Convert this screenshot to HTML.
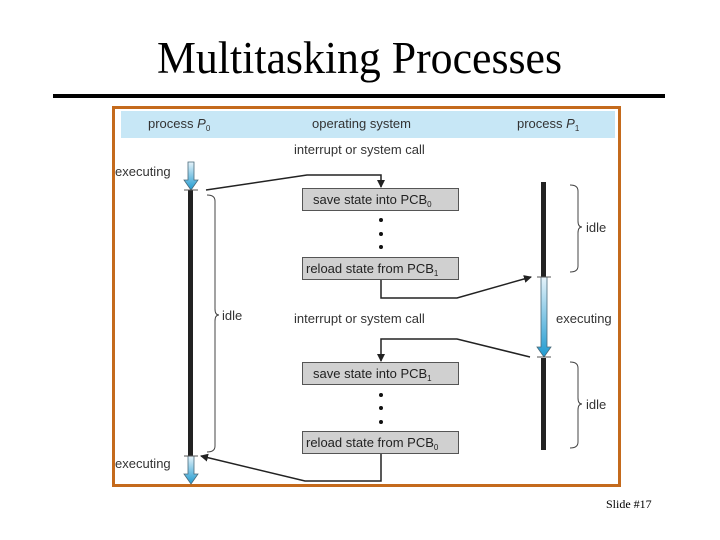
<!DOCTYPE html>
<html><head><style>body{margin:0;background:#fff}svg{display:block}</style></head>
<body>
<svg width="720" height="540" viewBox="0 0 720 540" xmlns="http://www.w3.org/2000/svg" font-family="Liberation Sans, sans-serif">
<defs>
<linearGradient id="g" x1="0" y1="0" x2="0" y2="1"><stop offset="0" stop-color="#e6f3fa"/><stop offset="1" stop-color="#1e9ad0"/></linearGradient>
<marker id="a" markerWidth="8" markerHeight="8" refX="7" refY="4" orient="auto" markerUnits="userSpaceOnUse"><path d="M0,0 L8,4 L0,8 Z" fill="#222"/></marker>
<clipPath id="c"><rect x="100" y="100" width="517" height="400"/></clipPath>
</defs>
<text x="157" y="73" font-family="Liberation Serif, serif" font-size="45" textLength="405" lengthAdjust="spacingAndGlyphs">Multitasking Processes</text>
<rect x="53" y="94" width="612" height="4" fill="#000"/>
<rect x="113.5" y="107.5" width="506" height="378" fill="#fff" stroke="#c46a1c" stroke-width="3"/>
<rect x="121" y="111" width="494" height="27" fill="#c7e7f6"/>
<g font-size="13" fill="#333" clip-path="url(#c)">
<text x="148" y="128">process <tspan font-style="italic">P</tspan><tspan font-size="8" dy="3">0</tspan></text>
<text x="312" y="128">operating system</text>
<text x="517" y="128">process <tspan font-style="italic">P</tspan><tspan font-size="8" dy="3">1</tspan></text>
<text x="294" y="154">interrupt or system call</text>
<text x="294" y="323">interrupt or system call</text>
<text x="115" y="176">executing</text>
<text x="115" y="468">executing</text>
<text x="556" y="323">executing</text>
<text x="222" y="320">idle</text>
<text x="586" y="232">idle</text>
<text x="586" y="409">idle</text>
</g>
<g fill="#d0d0d0" stroke="#555" stroke-width="1">
<rect x="302.5" y="188.5" width="156" height="22"/>
<rect x="302.5" y="257.5" width="156" height="22"/>
<rect x="302.5" y="362.5" width="156" height="22"/>
<rect x="302.5" y="431.5" width="156" height="22"/>
</g>
<g font-size="13" fill="#222">
<text x="313" y="204">save state into PCB<tspan font-size="8" dy="3">0</tspan></text>
<text x="306" y="273">reload state from PCB<tspan font-size="8" dy="3">1</tspan></text>
<text x="313" y="378">save state into PCB<tspan font-size="8" dy="3">1</tspan></text>
<text x="306" y="447">reload state from PCB<tspan font-size="8" dy="3">0</tspan></text>
</g>
<g fill="#111">
<circle cx="381" cy="220" r="2"/><circle cx="381" cy="234" r="2"/><circle cx="381" cy="247" r="2"/>
<circle cx="381" cy="395" r="2"/><circle cx="381" cy="408" r="2"/><circle cx="381" cy="422" r="2"/>
</g>
<rect x="188" y="190" width="5" height="266" fill="#222"/>
<path d="M188,162 h6 v18 h4 l-7,10 l-7,-10 h4 z" fill="url(#g)" stroke="#4a6a7a" stroke-width="0.8"/>
<path d="M188,456 h6 v18 h4 l-7,10 l-7,-10 h4 z" fill="url(#g)" stroke="#4a6a7a" stroke-width="0.8"/>
<path d="M184,190 h14 M184,456 h14" stroke="#555"/>
<rect x="541" y="182" width="5" height="95" fill="#222"/>
<rect x="541" y="358" width="5" height="92" fill="#222"/>
<path d="M541,277 h6 v70 h4 l-7,10 l-7,-10 h4 z" fill="url(#g)" stroke="#4a6a7a" stroke-width="0.8"/>
<path d="M537,277 h14 M537,357 h14" stroke="#555"/>
<g fill="none" stroke="#444" stroke-width="1">
<path d="M207,195 q8,0 8,6 v108 q0,6 4,6 q-4,0 -4,6 v125 q0,6 -8,6"/>
<path d="M570,185 q8,0 8,6 v30 q0,6 4,6 q-4,0 -4,6 v33 q0,6 -8,6"/>
<path d="M570,362 q8,0 8,6 v30 q0,6 4,6 q-4,0 -4,6 v32 q0,6 -8,6"/>
</g>
<g fill="none" stroke="#222" stroke-width="1.5">
<path d="M206,190 L307,175 H381 V187" marker-end="url(#a)"/>
<path d="M381,280 V298 H457 L531,277" marker-end="url(#a)"/>
<path d="M530,357 L457,339 H381 V361" marker-end="url(#a)"/>
<path d="M381,454 V481 H305 L201,456" marker-end="url(#a)"/>
</g>
<text x="606" y="508" font-family="Liberation Serif, serif" font-size="12">Slide #17</text>
</svg>
</body></html>
